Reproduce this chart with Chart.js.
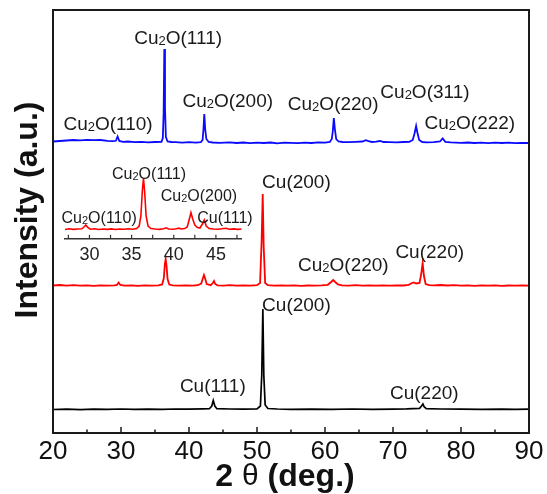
<!DOCTYPE html>
<html>
<head>
<meta charset="utf-8">
<script src="https://cdn.jsdelivr.net/npm/chart.js@4.4.0/dist/chart.umd.min.js"></script>
<style>
  html, body { margin: 0; padding: 0; background: #fff; }
  #wrap { position: relative; width: 547px; height: 494px; }
  #main { position: absolute; left: 0; top: 0; }
  #inset { position: absolute; left: 55px; top: 160px; }
</style>
</head>
<body>
<div id="wrap">
  <canvas id="main" width="547" height="494"></canvas>
  <canvas id="inset" width="210" height="112"></canvas>
</div>
<script>
const FONT = "'Liberation Sans', Arial, sans-serif";

// 2theta tick labels
const xTicks = [20, 30, 40, 50, 60, 70, 80, 90];
const insetTicks = [27.5, 30, 32.5, 35, 37.5, 40, 42.5, 45, 47.5];

// [2theta, intensity] (a.u., relative to each baseline)
const blackPattern = [
  [20, 0.5], [22, 0.8], [24, 0.4], [26, 0.9], [28, 0.6], [30, 1], [32, 0.7], [34, 0.9],
  [36, 0.6], [38, 1], [40, 0.8], [42, 1.1], [43.0, 1.3], [43.35, 4], [43.57, 9.5],
  [43.8, 4], [44.1, 1.3], [46, 1], [48, 0.8], [50.0, 1.2], [50.5, 4], [50.7, 35],
  [50.86, 101], [51.0, 35], [51.2, 5], [51.6, 1.5], [53, 1], [55, 0.7], [58, 0.9],
  [61, 0.6], [64, 1], [67, 0.7], [70, 0.9], [72, 1.1], [73.9, 1.6], [74.2, 4],
  [74.4, 6], [74.6, 3], [74.9, 1.4], [77, 1], [80, 0.8], [83, 0.6], [86, 0.9], [88, 0.7], [90, 0.8]
];
const redPattern = [
  [20, 0.5], [21, 1], [22, 0.4], [23, 0.8], [24, 0.3], [25, 0.7], [26, 0.2], [27, 0.6],
  [28, 0.3], [29, 0.6], [29.4, 1], [29.65, 3.5], [29.9, 1], [30.5, 0.4], [31.5, 0.7],
  [32.5, 0.2], [33.5, 0.6], [34.5, 0.3], [35.5, 0.7], [36.05, 1.5], [36.3, 8], [36.45, 22],
  [36.57, 27], [36.7, 20], [36.85, 7], [37.1, 1.5], [37.6, 0.6], [38.5, 0.3], [39.5, 0.7],
  [40.5, 0.4], [41.3, 0.8], [41.8, 2.5], [42.05, 8], [42.2, 11], [42.35, 8], [42.6, 2],
  [43.2, 0.8], [43.5, 3], [43.68, 5], [43.85, 2], [44.2, 0.6], [45, 0.4], [46, 0.8],
  [47, 0.3], [48, 0.7], [49, 0.4], [50, 0.8], [50.45, 3], [50.68, 45], [50.84, 92],
  [50.98, 40], [51.2, 3], [51.6, 0.8], [52.5, 0.4], [53.5, 0.7], [54.5, 0.3], [55.5, 0.6],
  [56.5, 0.2], [57.5, 0.5], [58.5, 0.3], [59.5, 0.7], [60.4, 1.2], [60.9, 4], [61.2, 6],
  [61.5, 4], [61.9, 1.5], [62.5, 0.7], [63.5, 0.4], [64.5, 0.8], [65.5, 0.3], [66.5, 0.6],
  [67.5, 0.4], [68.5, 0.7], [69.5, 0.3], [70.5, 0.6], [71.5, 0.5], [72.3, 1.2], [72.8, 3],
  [73.05, 3.5], [73.4, 2.5], [73.9, 3], [74.15, 12], [74.36, 23], [74.55, 10], [74.8, 2],
  [75.3, 0.9], [76, 0.6], [77, 1], [78, 0.5], [79, 0.8], [80, 0.3], [81, 0.6], [82, 0.2],
  [83, 0.7], [84, 0.3], [85, 0.6], [86, 0.2], [87, 0.5], [88, 0.3], [89, 0.6], [90, 0.4]
];
const bluePattern = [
  [20, 1.5], [21, 2], [22, 2.5], [23, 3], [24, 2.6], [25, 3.2], [26, 2.8], [27, 3],
  [28, 2.2], [28.8, 1.8], [29.25, 2.2], [29.5, 6.5], [29.75, 2], [30.3, 1.2], [31, 1.5],
  [32, 0.8], [33, 1.2], [34, 0.6], [35, 1], [35.95, 1.2], [36.15, 5], [36.27, 30],
  [36.37, 94], [36.47, 35], [36.6, 6], [36.85, 1.5], [37.4, 1], [38, 0.8], [39, 0.3],
  [40, 0.8], [41, 0.4], [41.75, 0.9], [42.0, 3], [42.13, 14], [42.25, 29], [42.38, 14],
  [42.55, 4], [42.9, 1], [43.5, 0.5], [44.5, 0.2], [46, 0.6], [47, 0], [48, 0.5],
  [49, -0.2], [50, 0.4], [51, 0], [52, 0.5], [53, -0.3], [54, 0.3], [55, 0.1], [56, -0.2],
  [57, 0.4], [58, 0], [59, 0.6], [60, 0.3], [60.7, 1], [61.0, 4], [61.15, 12], [61.3, 25],
  [61.45, 14], [61.65, 4], [62.0, 1.5], [62.6, 1], [63.5, 0.8], [64.5, 1.2], [65.5, 1.5],
  [66.0, 2.8], [66.4, 1.8], [66.9, 1], [67.5, 1.4], [68.1, 2], [68.6, 1], [69.5, 0.8],
  [70.5, 0.6], [71.5, 1], [72.4, 1.2], [72.9, 3], [73.15, 9], [73.4, 17], [73.6, 10],
  [73.85, 3], [74.3, 1], [75, 0.6], [76, 0.8], [76.9, 1.5], [77.3, 4.5], [77.7, 1.2],
  [78.5, 0.6], [80, 0.2], [81, 0.5], [82, 0], [83, 0.3], [84, -0.2], [85, 0.4], [86, 0],
  [87, 0.3], [88, -0.1], [89, 0.2], [90, 0]
];
const insetPattern = [
  [27.1, 0.5], [27.6, 1.2], [28.1, 0.6], [28.6, 1], [29.1, 1.2], [29.35, 3], [29.57, 5],
  [29.8, 2.5], [30.1, 0.8], [30.6, 1.2], [31.1, 0.5], [31.6, 1], [32.1, 0.6], [32.6, 1.1],
  [33.1, 0.5], [33.6, 1], [34.1, 0.7], [34.6, 1.2], [35.1, 0.8], [35.6, 1.5], [35.9, 4],
  [36.1, 14], [36.28, 40], [36.41, 51.7], [36.55, 38], [36.72, 14], [36.95, 4], [37.3, 1.5],
  [37.8, 1], [38.3, 0.6], [38.8, 1.2], [39.1, 2.2], [39.4, 1], [39.9, 0.7], [40.3, 1.2],
  [40.6, 1.8], [40.9, 1], [41.3, 1.4], [41.6, 3], [41.85, 11], [42.04, 17.3], [42.25, 11],
  [42.5, 5], [42.8, 2.5], [43.1, 2], [43.4, 6], [43.62, 10], [43.85, 4], [44.2, 1.5],
  [44.7, 1], [45.2, 0.7], [45.7, 1.2], [46.2, 1.8], [46.6, 0.8], [47.1, 1.1], [47.6, 0.6], [48.06, 1]
];

// vertical stacking of the three patterns
const offsets = { black: 23, red: 147, blue: 290 };

// peak labels: text, 2theta, height (a.u.)
const peakLabels = [
  ['Cu2O(110)', 28.1, 309], ['Cu2O(111)', 38.4, 395], ['Cu2O(200)', 45.7, 332],
  ['Cu2O(220)', 61.2, 329], ['Cu2O(311)', 74.7, 341], ['Cu2O(222)', 81.3, 310],
  ['Cu(200)', 55.8, 251], ['Cu2O(220)', 62.7, 168], ['Cu(220)', 75.4, 181],
  ['Cu(200)', 55.8, 128], ['Cu(111)', 43.5, 47], ['Cu(220)', 74.6, 40]
];
const insetLabels = [
  ['Cu2O(110)', 31.15, 12.7], ['Cu2O(111)', 37.07, 56.7],
  ['Cu2O(200)', 42.99, 34], ['Cu(111)', 46.07, 12.7]
];

function drawLabel(ctx, text, cx, cy, size) {
  const big = size + 'px ' + FONT;
  const small = Math.round(size * 0.66) + 'px ' + FONT;
  let parts = [[text, big, 0]];
  if (text.startsWith('Cu2O')) {
    parts = [['Cu', big, 0], ['2', small, 1], [text.slice(3), big, 0]];
  }
  let total = 0;
  parts.forEach(p => { ctx.font = p[1]; total += ctx.measureText(p[0]).width; });
  let x = cx - total / 2;
  const base = cy + size * 0.33;
  ctx.fillStyle = '#1a1a1a';
  ctx.textAlign = 'left';
  ctx.textBaseline = 'alphabetic';
  parts.forEach(p => {
    ctx.font = p[1];
    ctx.fillText(p[0], x, base + p[2]);
    x += ctx.measureText(p[0]).width;
  });
}

// "2 θ (deg.)" with a plain-weight theta
function drawXTitle(ctx, cx, cy) {
  const parts = [['2 ', 'bold 32px ' + FONT], ['\u03b8', '30px ' + FONT], [' (deg.)', 'bold 32px ' + FONT]];
  let total = 0;
  parts.forEach(p => { ctx.font = p[1]; total += ctx.measureText(p[0]).width; });
  let x = cx - total / 2;
  ctx.textAlign = 'left';
  ctx.textBaseline = 'middle';
  parts.forEach(p => {
    ctx.font = p[1];
    ctx.fillText(p[0], x, cy);
    x += ctx.measureText(p[0]).width;
  });
}

const mainDecor = {
  id: 'mainDecor',
  afterDraw(chart) {
    const { ctx, chartArea: a, scales: { x, y } } = chart;
    ctx.save();
    ctx.strokeStyle = '#1a1a1a';
    ctx.lineWidth = 2;
    ctx.strokeRect(a.left, a.top, a.right - a.left, a.bottom - a.top);
    ctx.lineWidth = 1.5;
    for (let v = 25; v < 90; v += 5) {
      const px = x.getPixelForValue(v);
      const len = v % 10 === 0 ? 6 : 3.5;
      ctx.beginPath();
      ctx.moveTo(px, a.bottom);
      ctx.lineTo(px, a.bottom - len);
      ctx.stroke();
    }
    peakLabels.forEach(([t, tx, ty]) => drawLabel(ctx, t, x.getPixelForValue(tx), y.getPixelForValue(ty), 19));
    // axis titles
    ctx.fillStyle = '#111';
    drawXTitle(ctx, 285, 477);
    ctx.textAlign = 'center';
    ctx.textBaseline = 'middle';
    ctx.font = 'bold 32px ' + FONT;
    ctx.translate(28, 210);
    ctx.rotate(-Math.PI / 2);
    ctx.fillText('Intensity (a.u.)', 0, 0);
    ctx.restore();
  }
};

const insetDecor = {
  id: 'insetDecor',
  afterDraw(chart) {
    const { ctx, chartArea: a, scales: { x, y } } = chart;
    ctx.save();
    ctx.strokeStyle = '#333';
    ctx.lineWidth = 1.2;
    insetTicks.forEach(v => {
      const px = x.getPixelForValue(v);
      ctx.beginPath();
      ctx.moveTo(px, a.bottom);
      ctx.lineTo(px, a.bottom - 3.5);
      ctx.stroke();
    });
    insetLabels.forEach(([t, tx, ty]) => drawLabel(ctx, t, x.getPixelForValue(tx), y.getPixelForValue(ty), 16));
    ctx.restore();
  }
};

function series(pattern, offset, color, width) {
  return {
    data: pattern.map(([a, c]) => ({ x: a, y: c + offset })),
    borderColor: color,
    borderWidth: width,
    pointRadius: 0,
    tension: 0,
    fill: false
  };
}

new Chart(document.getElementById('main'), {
  type: 'line',
  data: {
    datasets: [
      series(blackPattern, offsets.black, '#000000', 1.7),
      series(redPattern, offsets.red, '#ff0000', 1.8),
      series(bluePattern, offsets.blue, '#0a0aff', 1.8)
    ]
  },
  options: {
    responsive: false,
    animation: false,
    devicePixelRatio: 1,
    layout: { padding: { top: 10, right: 18, left: 0, bottom: 0 } },
    plugins: { legend: { display: false }, tooltip: { enabled: false } },
    scales: {
      x: {
        type: 'linear', min: 20, max: 90,
        afterBuildTicks: s => { s.ticks = xTicks.map(v => ({ value: v })); },
        ticks: { font: { family: FONT, size: 26 }, color: '#111', padding: 3, maxRotation: 0, autoSkip: false },
        grid: { display: false, drawTicks: false },
        border: { display: false },
        afterFit: s => { s.height = 61; }
      },
      y: {
        type: 'linear', min: 0, max: 423,
        ticks: { display: false },
        grid: { display: false, drawTicks: false },
        border: { display: false },
        afterFit: s => { s.width = 53; }
      }
    }
  },
  plugins: [mainDecor]
});

new Chart(document.getElementById('inset'), {
  type: 'line',
  data: { datasets: [series(insetPattern, 0, '#ff0000', 1.6)] },
  options: {
    responsive: false,
    animation: false,
    devicePixelRatio: 1,
    layout: { padding: { top: 0, right: 23.3, left: 10, bottom: 0 } },
    plugins: { legend: { display: false }, tooltip: { enabled: false } },
    scales: {
      x: {
        type: 'linear', min: 27.1, max: 48.06,
        afterBuildTicks: s => { s.ticks = insetTicks.map(v => ({ value: v })); },
        ticks: {
          font: { family: FONT, size: 18 }, color: '#222', padding: 6, maxRotation: 0, autoSkip: false,
          callback: v => (v % 5 === 0 ? String(v) : '')
        },
        grid: { display: false, drawTicks: false },
        border: { display: true, color: '#333', width: 1.5 },
        afterFit: s => { s.height = 33.7; }
      },
      y: { type: 'linear', min: -8.3, max: 70, display: false }
    }
  },
  plugins: [insetDecor]
});
</script>
</body>
</html>
